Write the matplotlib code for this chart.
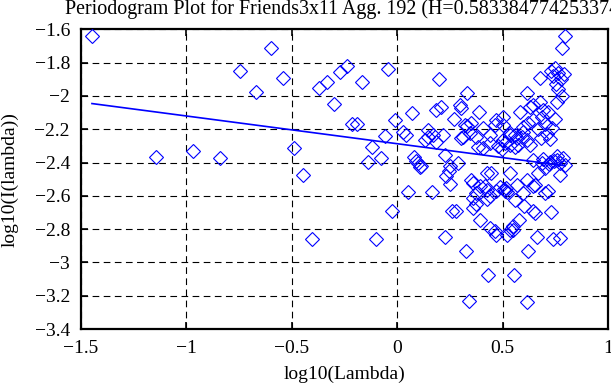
import matplotlib
matplotlib.use("Agg")
import matplotlib.pyplot as plt

# log10(Lambda) values of periodogram points
x_vals = [
    -1.448, -1.145, -0.968, -0.840, -0.745, -0.668, -0.598, -0.540, -0.490, -0.445,
    -0.405, -0.370, -0.335, -0.300, -0.270, -0.240, -0.216, -0.190, -0.165, -0.140,
    -0.118, -0.099, -0.078, -0.060, -0.042, -0.024, -0.010, 0.027, 0.040, 0.052,
    0.070, 0.082, 0.090, 0.100, 0.106, 0.114, 0.130, 0.146, 0.146, 0.165,
    0.170, 0.186, 0.186, 0.200, 0.210, 0.217, 0.225, 0.225, 0.232, 0.246,
    0.250, 0.250, 0.262, 0.268, 0.278, 0.289, 0.300, 0.305, 0.305, 0.312,
    0.322, 0.328, 0.331, 0.331, 0.341, 0.344, 0.348, 0.352, 0.360, 0.360,
    0.360, 0.376, 0.376, 0.376, 0.384, 0.389, 0.392, 0.395, 0.408, 0.408,
    0.416, 0.424, 0.424, 0.427, 0.432, 0.440, 0.440, 0.440, 0.440, 0.447,
    0.463, 0.463, 0.471, 0.471, 0.471, 0.480, 0.490, 0.495, 0.500, 0.500,
    0.503, 0.505, 0.510, 0.511, 0.515, 0.519, 0.520, 0.535, 0.535, 0.535,
    0.535, 0.535, 0.551, 0.551, 0.555, 0.559, 0.559, 0.559, 0.567, 0.567,
    0.574, 0.579, 0.582, 0.590, 0.598, 0.598, 0.598, 0.601, 0.614, 0.614,
    0.614, 0.614, 0.622, 0.622, 0.630, 0.630, 0.643, 0.646, 0.646, 0.646,
    0.646, 0.654, 0.654, 0.665, 0.670, 0.670, 0.678, 0.678, 0.680, 0.686,
    0.686, 0.690, 0.694, 0.700, 0.700, 0.700, 0.710, 0.717, 0.717, 0.720,
    0.725, 0.725, 0.728, 0.730, 0.735, 0.738, 0.740, 0.745, 0.750, 0.750,
    0.755, 0.757, 0.757, 0.760, 0.765, 0.765, 0.770, 0.773, 0.773, 0.775,
    0.780, 0.781, 0.785, 0.790, 0.797, 0.797,
]
# log10(I(lambda)) values of periodogram points
y_vals = [
    -1.638, -2.364, -2.330, -2.374, -1.848, -1.978, -1.712, -1.892, -2.314, -2.478,
    -2.858, -1.950, -1.918, -2.050, -1.854, -1.820, -2.170, -2.166, -1.918, -2.396,
    -2.306, -2.858, -2.370, -2.238, -1.838, -2.694, -2.144, -2.214, -2.234, -2.580,
    -2.100, -2.368, -2.390, -2.400, -2.430, -2.424, -2.264, -2.204, -2.244, -2.578,
    -2.234, -2.084, -2.274, -1.898, -2.068, -2.234, -2.354, -2.846, -2.484, -2.454,
    -2.530, -2.424, -2.694, -2.140, -2.694, -2.400, -2.054, -2.074, -2.254, -2.244,
    -2.174, -2.930, -1.984, -2.180, -3.234, -2.224, -2.164, -2.504, -2.524, -2.614,
    -2.674, -2.244, -2.584, -2.648, -2.304, -2.094, -2.540, -2.744, -2.194, -2.314,
    -2.544, -2.464, -2.564, -2.618, -3.078, -2.234, -2.284, -2.604, -2.794, -2.464,
    -2.174, -2.814, -2.144, -2.574, -2.834, -2.300, -2.550, -2.320, -2.124, -2.174,
    -2.264, -2.560, -2.570, -2.284, -2.555, -2.834, -2.580, -2.224, -2.294, -2.464,
    -2.804, -2.234, -2.784, -2.804, -3.078, -2.234, -2.304, -2.624, -2.534, -2.254,
    -2.294, -2.744, -2.094, -2.244, -2.184, -2.584, -2.214, -2.664, -1.984, -2.504,
    -3.238, -2.264, -2.164, -2.930, -2.064, -2.294, -2.694, -2.054, -2.144, -2.544,
    -2.384, -2.534, -2.704, -2.848, -2.464, -2.200, -1.894, -2.034, -2.250, -2.124,
    -2.404, -2.380, -2.084, -2.434, -2.584, -2.170, -2.230, -2.094, -2.574, -2.410,
    -2.260, -2.394, -2.698, -1.850, -2.190, -2.858, -1.880, -2.390, -1.830, -2.140,
    -1.930, -2.034, -2.384, -2.360, -1.860, -1.960, -2.400, -2.474, -2.854, -1.900,
    -2.000, -1.714, -2.370, -1.870, -1.640, -2.414,
]

# least-squares fit line endpoints
line_x = [-1.448, 0.797]
line_y = [-2.046, -2.420]

x_ticks = [-1.5, -1.0, -0.5, 0.0, 0.5, 1.0]
x_tick_labels = ["\u22121.5", "\u22121", "\u22120.5", "0", "0.5", "1"]
y_ticks = [-3.4, -3.2, -3.0, -2.8, -2.6, -2.4, -2.2, -2.0, -1.8, -1.6]
y_tick_labels = ["\u22123.4", "\u22123.2", "\u22123", "\u22122.8", "\u22122.6",
                 "\u22122.4", "\u22122.2", "\u22122", "\u22121.8", "\u22121.6"]

title = "Periodogram Plot for Friends3x11 Agg. 192 (H=0.583384774253374)"

plt.rcParams['font.family'] = ['Liberation Serif', 'DejaVu Serif']

fig = plt.figure(figsize=(6.11, 3.85), dpi=100)
ax = fig.add_axes([81/611, 1-329/385, 527/611, (329-29.3)/385])

ax.plot(x_vals, y_vals, linestyle='none', marker='D', markersize=7.4,
        markerfacecolor='none', markeredgecolor='#0000ff', markeredgewidth=0.8,
        clip_on=False, zorder=3)
ax.plot(line_x, line_y, color='#0000ff', linewidth=1.2, zorder=4)

ax.set_xlim(-1.5, 1.0)
ax.set_ylim(-3.4, -1.6)
ax.set_xticks(x_ticks)
ax.set_xticklabels(x_tick_labels)
ax.set_yticks(y_ticks)
ax.set_yticklabels(y_tick_labels)
ax.tick_params(direction='in', top=True, right=True, length=5, width=1.2,
               labelsize=14, colors='black')
ax.tick_params(axis='y', pad=8)
ax.tick_params(axis='x', pad=8)
ax.grid(True, color='black', linestyle=(0, (6, 4)), linewidth=0.8, zorder=1)
ax.set_axisbelow(True)
for s in ax.spines.values():
    s.set_linewidth(1.6)
    s.set_color('black')

ax.set_xlabel("log10(Lambda)", fontsize=14)
ax.set_ylabel("log10(I(lambda))", fontsize=14)
ax.xaxis.set_label_coords(0.5, -0.123)
ax.yaxis.set_label_coords(-0.118, 0.5)

fig.text(65/611, 1-9/385, title, fontsize=14.4, ha='left', va='center')

fig.savefig("out.png", dpi=100)
